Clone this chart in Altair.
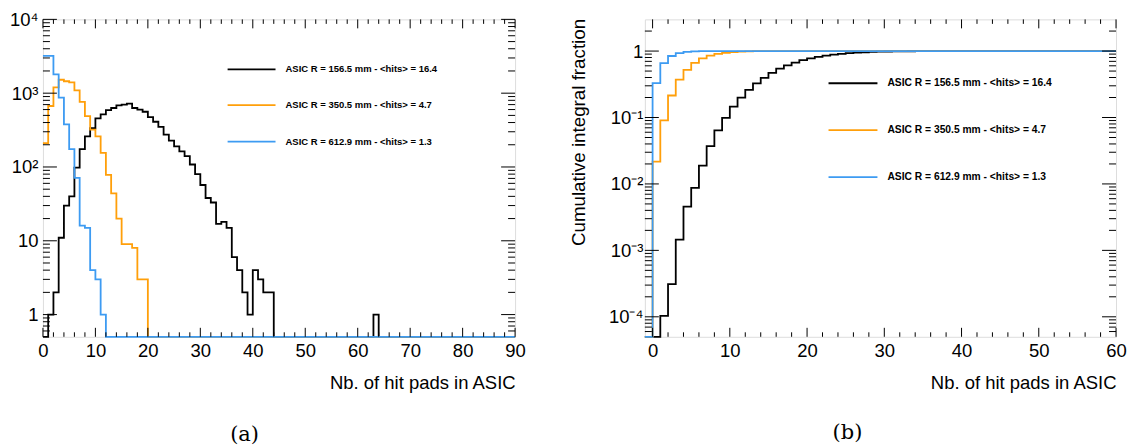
import altair as alt
import pandas as pd
import math

# ---------------- data ----------------
# entries per bin of "Nb. of hit pads in ASIC", starting at bin 0 (later bins are empty)
hits_156 = [0, 1, 2, 11, 30, 40, 98, 175, 260, 335,
            455, 515, 590, 630, 685, 700, 720, 630, 600, 560,
            475, 410, 350, 275, 228, 190, 163, 140, 108, 80,
            57, 38, 33, 17, 18, 15, 6, 4, 2, 1,
            4, 3, 2, 2, 0, 0, 0, 0, 0, 0,
            0, 0, 0, 0, 0, 0, 0, 0, 0, 0,
            0, 0, 0, 1]
hits_350 = [210, 670, 1200, 1520, 1450, 1400, 1090, 760, 490, 320,
            260, 155, 78, 44, 20, 9, 9, 8, 3, 3]
hits_612 = [3200, 3200, 1800, 870, 377, 175, 71, 16, 15, 4, 3, 1]

series_counts = [hits_156, hits_350, hits_612]
series_labels = ["ASIC R = 156.5 mm - <hits> = 16.4",
                 "ASIC R = 350.5 mm - <hits> = 4.7",
                 "ASIC R = 612.9 mm - <hits> = 1.3"]
series_colors = ["#000000", "#FF9F0A", "#3D9BF2"]

bin_edges = list(range(-1, 91))          # bins used by the two panels

left_x_ticks = [0, 10, 20, 30, 40, 50, 60, 70, 80, 90]
left_y_ticks = [1, 10, 100, 1000, 10000]
left_y_labels = ["1", "10", "10²", "10³", "10⁴"]
right_x_ticks = [0, 10, 20, 30, 40, 50, 60]
right_y_ticks = [0.0001, 0.001, 0.01, 0.1, 1]
right_y_labels = ["10⁻⁴", "10⁻³", "10⁻²", "10⁻¹", "1"]

x_title = "Nb. of hit pads in ASIC"
y_title_right = "Cumulative integral fraction"
panel_tags = ["(a)", "(b)"]

# ---------------- table ----------------
rows = []
for sid, counts in enumerate(series_counts):
    for b in bin_edges:
        c = counts[b] if 0 <= b < len(counts) else 0
        rows.append({"sid": sid, "bin": b, "count": c})
df = pd.DataFrame(rows)

FONT = "Liberation Sans"
W_L, W_R, H = 473, 472, 318
LEFT_DOM = [0.5, 10000]
RIGHT_DOM = [5e-5, 3]


def label_expr(values, labels):
    expr = "''"
    for v, l in zip(values, labels):
        expr = f"abs(log(datum.value)/LN10 - ({math.log10(v):.0f})) < 0.01 ? '{l}' : " + expr
    return expr


def minor_log(dom):
    out = []
    for k in range(-6, 6):
        for m in range(2, 10):
            v = m * 10 ** k
            if dom[0] < v < dom[1]:
                out.append(v)
    return out


def tick_layers(xscale, yscale, xaxis, yaxis, xmaj, xmin, ymaj, ymin, W, ylen, xlen):
    layers = []
    for vals, L in ((ymaj, ylen[0]), (ymin, ylen[1])):
        d = pd.DataFrame({"bin": vals})
        base = alt.Chart(d).mark_rule(color="black", strokeWidth=1)
        layers.append(base.encode(y=alt.Y("bin:Q", scale=yscale, axis=yaxis),
                                  x=alt.value(0), x2=alt.value(L)))
        layers.append(base.encode(y=alt.Y("bin:Q", scale=yscale, axis=yaxis),
                                  x=alt.value(W), x2=alt.value(W - L)))
    for vals, L in ((xmaj, xlen[0]), (xmin, xlen[1])):
        d = pd.DataFrame({"bin": vals})
        base = alt.Chart(d).mark_rule(color="black", strokeWidth=1)
        layers.append(base.encode(x=alt.X("bin:Q", scale=xscale, axis=xaxis),
                                  y=alt.value(H), y2=alt.value(H - L)))
        layers.append(base.encode(x=alt.X("bin:Q", scale=xscale, axis=xaxis),
                                  y=alt.value(0), y2=alt.value(L)))
    return layers


def legend_layers(x0, x1, xt, ys, fs):
    out = []
    for lab, col, yy in zip(series_labels, series_colors, ys):
        d = pd.DataFrame({"label": [lab]})
        out.append(alt.Chart(d).mark_rule(color=col, strokeWidth=1.8).encode(
            x=alt.value(x0), x2=alt.value(x1), y=alt.value(yy)))
        out.append(alt.Chart(d).mark_text(align="left", baseline="middle", font=FONT,
                                          fontSize=fs, fontWeight="bold", color="black").encode(
            x=alt.value(xt), y=alt.value(yy), text="label:N"))
    return out


def tag_layer(tag, x, y):
    d = pd.DataFrame({"t": [tag]})
    return alt.Chart(d).mark_text(font="DejaVu Serif", fontSize=21, align="center",
                                  baseline="middle", color="black").encode(
        x=alt.value(x), y=alt.value(y), text="t:N")


def x_axis(values, W):
    return alt.Axis(values=values, ticks=False, tickSize=0, domain=False, grid=False,
                    labelFont=FONT, labelFontSize=18.5, labelColor="black", labelPadding=5,
                    labelFlush=False, labelOverlap=False, format="d",
                    title=x_title, titleFont=FONT, titleFontSize=18.5, titleFontWeight="normal",
                    titleColor="black", titleX=W, titleY=52, titleAlign="right",
                    titleBaseline="alphabetic", titleAnchor="end")


# ---------------- left panel ----------------
xs_l = alt.Scale(domain=[0, 90], nice=False, zero=False)
ys_l = alt.Scale(type="log", domain=LEFT_DOM, nice=False)
ax_x_l = x_axis(left_x_ticks, W_L)
ax_y_l = alt.Axis(values=left_y_ticks, labelExpr=label_expr(left_y_ticks, left_y_labels),
                  ticks=False, tickSize=0, domain=False, grid=False, labelFont=FONT,
                  labelFontSize=18.5, labelColor="black", labelPadding=5,
                  labelOverlap=False, minExtent=34, maxExtent=34, title=None)

left_layers = []
for sid, col in enumerate(series_colors):
    left_layers.append(
        alt.Chart(df).transform_filter((alt.datum.sid == sid) & (alt.datum.bin >= 0))
        .transform_calculate(yv=f"max(datum.count, {LEFT_DOM[0]})")
        .mark_line(interpolate="step-after", color=col, strokeWidth=1.8)
        .encode(x=alt.X("bin:Q", scale=xs_l, axis=ax_x_l),
                y=alt.Y("yv:Q", scale=ys_l, axis=ax_y_l))
    )
left_minor_x = [v for v in range(0, 91, 2) if v % 10]
left_layers += tick_layers(xs_l, ys_l, ax_x_l, ax_y_l, left_x_ticks, left_minor_x,
                           left_y_ticks, minor_log(LEFT_DOM), W_L, (14, 7), (9, 4.5))
left_layers += legend_layers(185, 233, 243, [50, 86, 122.5], 9.5)
left_layers.append(tag_layer(panel_tags[0], 202, 416))
left = alt.layer(*left_layers).properties(width=W_L, height=H)

# ---------------- right panel ----------------
xs_r = alt.Scale(domain=[-1, 60], nice=False, zero=False)
ys_r = alt.Scale(type="log", domain=RIGHT_DOM, nice=False)
ax_x_r = x_axis(right_x_ticks, W_R)
ax_y_r = alt.Axis(values=right_y_ticks, labelExpr=label_expr(right_y_ticks, right_y_labels),
                  ticks=False, tickSize=0, domain=False, grid=False, labelFont=FONT,
                  labelFontSize=18.5, labelColor="black", labelPadding=2,
                  labelOverlap=False, title=y_title_right, titleFont=FONT,
                  titleFontSize=18.8, titleFontWeight="normal", titleColor="black",
                  titleX=-60, titleY=-1, titleAngle=270, titleAlign="right",
                  titleBaseline="alphabetic")

right_layers = []
for sid, col in enumerate(series_colors):
    right_layers.append(
        alt.Chart(df).transform_filter(alt.datum.sid == sid)
        .transform_window(cum="sum(count)", sort=[{"field": "bin"}], frame=[None, 0])
        .transform_joinaggregate(total="sum(count)")
        .transform_calculate(frac=f"max(datum.cum / datum.total, {RIGHT_DOM[0]})")
        .transform_filter(alt.datum.bin <= 60)
        .mark_line(interpolate="step-after", color=col, strokeWidth=1.8)
        .encode(x=alt.X("bin:Q", scale=xs_r, axis=ax_x_r),
                y=alt.Y("frac:Q", scale=ys_r, axis=ax_y_r))
    )
right_minor_x = [v for v in range(0, 61, 2) if v % 10]
right_layers += tick_layers(xs_r, ys_r, ax_x_r, ax_y_r, right_x_ticks, right_minor_x,
                            right_y_ticks, minor_log(RIGHT_DOM), W_R, (14, 7), (9, 4.5))
right_layers += legend_layers(184, 233, 243, [64, 111, 158], 10.3)
right_layers.append(tag_layer(panel_tags[1], 203, 414))
right = alt.layer(*right_layers).properties(width=W_R, height=H)

chart = (
    alt.hconcat(left, right, spacing=130, bounds="flush")
    .properties(padding={"left": 0, "top": 1, "right": 0, "bottom": 0})
    .configure_view(stroke="black", strokeWidth=1.5)
    .configure(background="white")
)

chart.save("out.html", embed_options={"renderer": "svg", "actions": False})
